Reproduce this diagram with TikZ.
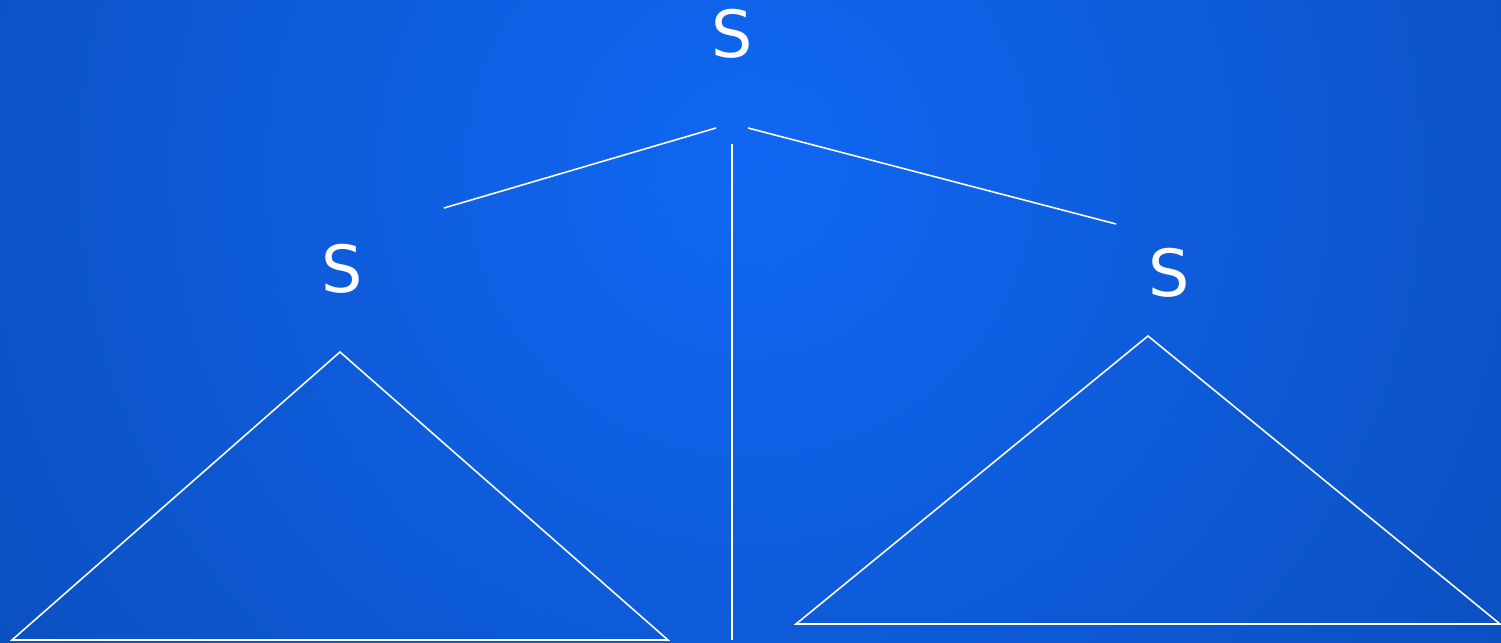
\documentclass[tikz,border=0pt]{standalone}
\usepackage{fontspec}
\setmainfont{DejaVu Sans}
\usetikzlibrary{positioning}
\definecolor{fondoin}{RGB}{16,103,243}
\definecolor{fondoout}{RGB}{8,64,158}

\begin{document}
\begin{tikzpicture}[x=0.01cm, y=-0.01cm,
    simbolo/.style={text=white, font=\fontsize{18.5}{20}\selectfont, inner sep=0pt, anchor=base},
    rama/.style={white, line width=0.45pt}]
  % fondo con degradado radial
  \useasboundingbox (0,0) rectangle (1501,643);
  \begin{scope}
    \clip (0,0) rectangle (1501,643);
    \shade[inner color=fondoin, outer color=fondoout] (750,170) circle (1520);
  \end{scope}
  % simbolos
  \node[simbolo] (raiz) at (732,58) {S};
  \node[simbolo] (izq) at (342,293) {S};
  \node[simbolo] (der) at (1169,297) {S};
  % extremos de las ramas
  \coordinate (r1) at (716,128);
  \coordinate (i1) at (444,208);
  \coordinate (r2) at (748,128);
  \coordinate (d1) at (1116,224);
  \coordinate (r3) at (732,144);
  \coordinate (b3) at (732,640);
  \draw[rama] (r1) -- (i1);
  \draw[rama] (r2) -- (d1);
  \draw[rama] (r3) -- (b3);
  % subarboles
  \draw[rama, line join=miter] (340,352) -- (12,640) -- (668,640) -- cycle;
  \draw[rama, line join=miter] (1148,336) -- (796,624) -- (1500,624) -- cycle;
\end{tikzpicture}
\end{document}
